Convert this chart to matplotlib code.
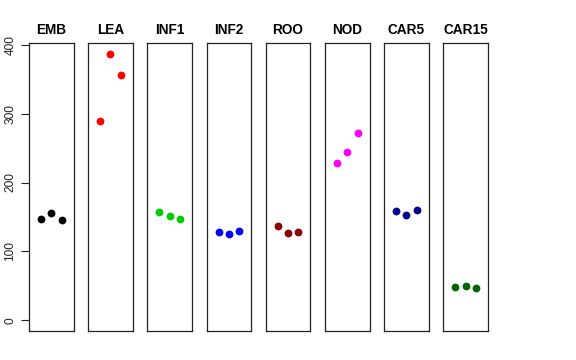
#!/usr/bin/env python3
import matplotlib
matplotlib.use("Agg")
import matplotlib.pyplot as plt

plt.rcParams['font.family'] = ['Liberation Sans', 'DejaVu Sans']

# one panel per tissue, three replicate values each
tissues = ["EMB", "LEA", "INF1", "INF2", "ROO", "NOD", "CAR5", "CAR15"]
emb = [147, 156, 145]
lea = [289, 387, 356]
inf1 = [157, 152, 147]
inf2 = [128, 125, 130]
roo = [137.5, 126.5, 127.5]
nod = [228, 244, 272]
car5 = [159, 153, 159.5]
car15 = [47.8, 49.2, 47.3]
values = [emb, lea, inf1, inf2, roo, nod, car5, car15]
colors = ["black", "#FF0000", "#00CD00", "#0000FF", "#8B0000", "#FF00FF", "#00008B", "#006400"]
yticks = [0, 100, 200, 300, 400]

W, H = 576, 360
fig = plt.figure(figsize=(W / 100, H / 100), dpi=100)

left, width, pitch = 29, 44.5, 59.2
top, bottom = 43, 331
ymax_all = max(max(v) for v in values)
ylim = (-0.04 * ymax_all, ymax_all * 1.04)

for i, (name, vals, col) in enumerate(zip(tissues, values, colors)):
    x0 = left + i * pitch
    ax = fig.add_axes([x0 / W, 1 - bottom / H, width / W, (bottom - top) / H])
    ax.plot([1, 2, 3], vals, 'o', color=col, markersize=4.6, linestyle='none')
    ax.set_xlim(-0.16, 4.16)
    ax.set_ylim(*ylim)
    ax.set_xticks([])
    for s in ax.spines.values():
        s.set_linewidth(0.9)
        s.set_color('#222222')
    ax.set_title(name, fontsize=9.8, fontweight='bold', pad=6.5)
    if i == 0:
        ax.set_yticks(yticks)
        ax.set_yticklabels([str(t) for t in yticks], rotation=90, va='center', fontsize=8.6)
        ax.tick_params(axis='y', length=6, width=0.8, pad=3, colors='#222222')
    else:
        ax.set_yticks([])

fig.savefig("out.png", dpi=100)
